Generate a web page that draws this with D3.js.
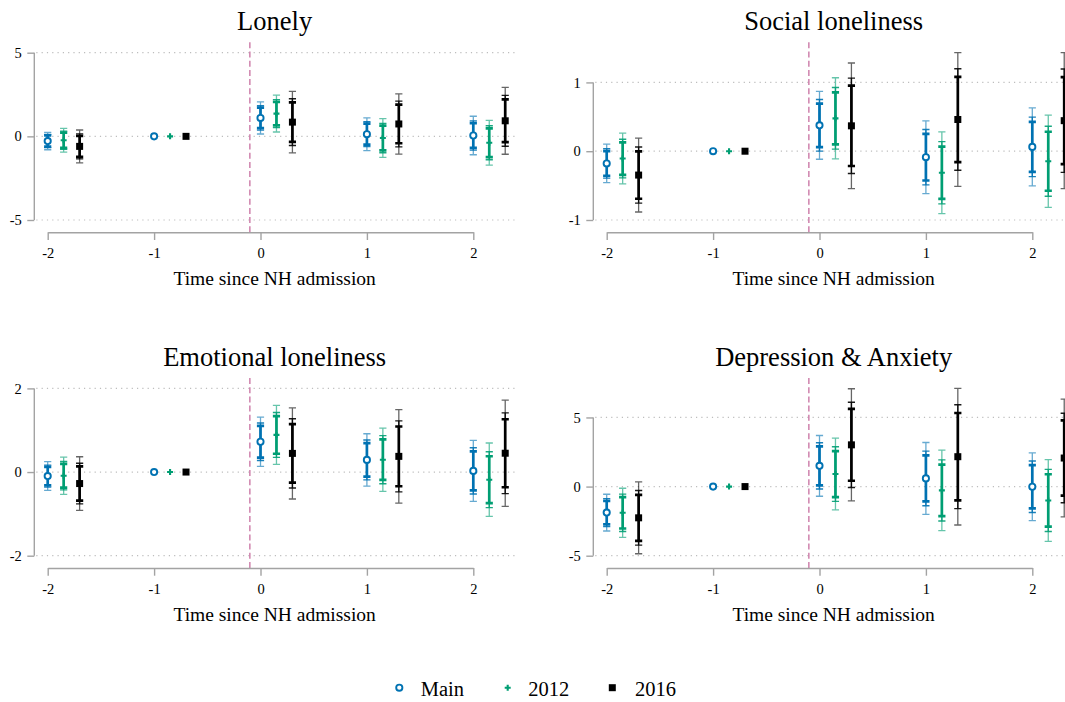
<!DOCTYPE html>
<html><head><meta charset="utf-8">
<script src="https://cdn.jsdelivr.net/npm/d3@7"></script>
<style>
body{margin:0;background:#fff}
svg{display:block}
text{font-family:"Liberation Serif","Times New Roman",serif;fill:#000}
</style>
</head><body>
<svg id="c" width="1065" height="702"></svg>
<script>
// ---- data ----
const seriesNames = ["Main", "2012", "2016"];
const timeTicks = [-2, -1, 0, 1, 2];
const panelTitles = ["Lonely", "Social loneliness", "Emotional loneliness", "Depression & Anxiety"];
const yTickSets = [[-5, 0, 5], [-1, 0, 1], [-2, 0, 2], [-5, 0, 5]];
const xTitle = "Time since NH admission";
// rows: [time, series, estimate, lo99, hi99, lo95, hi95, lo90, hi90]
const lonely = [
  [-2, "Main", -0.28, -0.80, 0.24, -0.675, 0.115, -0.613, 0.053],
  [-2, "2012", -0.23, -0.94, 0.48, -0.77, 0.31, -0.684, 0.224],
  [-2, "2016", -0.60, -1.58, 0.38, -1.345, 0.145, -1.227, 0.027],
  [-1, "Main", 0], [-1, "2012", 0], [-1, "2016", 0],
  [0, "Main", 1.10, 0.14, 2.06, 0.37, 1.83, 0.486, 1.714],
  [0, "2012", 1.36, 0.26, 2.46, 0.524, 2.196, 0.656, 2.064],
  [0, "2016", 0.85, -0.99, 2.69, -0.548, 2.248, -0.328, 2.028],
  [1, "Main", 0.13, -0.85, 1.11, -0.615, 0.875, -0.497, 0.757],
  [1, "2012", -0.10, -1.255, 1.055, -0.978, 0.778, -0.839, 0.639],
  [1, "2016", 0.74, -1.06, 2.54, -0.628, 2.108, -0.412, 1.892],
  [2, "Main", 0.05, -1.10, 1.20, -0.824, 0.924, -0.686, 0.786],
  [2, "2012", -0.38, -1.72, 0.96, -1.398, 0.638, -1.238, 0.478],
  [2, "2016", 0.93, -1.07, 2.93, -0.59, 2.45, -0.35, 2.21]
];
const social = [
  [-2, "Main", -0.178, -0.458, 0.102, -0.391, 0.035, -0.357, 0.001],
  [-2, "2012", -0.107, -0.476, 0.262, -0.387, 0.173, -0.343, 0.129],
  [-2, "2016", -0.347, -0.884, 0.19, -0.755, 0.061, -0.691, -0.003],
  [-1, "Main", 0], [-1, "2012", 0], [-1, "2016", 0],
  [0, "Main", 0.376, -0.117, 0.869, 0.001, 0.751, 0.06, 0.692],
  [0, "2012", 0.478, -0.112, 1.068, 0.03, 0.926, 0.10, 0.856],
  [0, "2016", 0.369, -0.544, 1.282, -0.325, 1.063, -0.215, 0.953],
  [1, "Main", -0.087, -0.616, 0.442, -0.489, 0.315, -0.426, 0.252],
  [1, "2012", -0.313, -0.908, 0.282, -0.765, 0.139, -0.694, 0.068],
  [1, "2016", 0.461, -0.51, 1.432, -0.277, 1.199, -0.16, 1.082],
  [2, "Main", 0.063, -0.505, 0.631, -0.369, 0.495, -0.301, 0.427],
  [2, "2012", -0.146, -0.816, 0.524, -0.655, 0.363, -0.575, 0.283],
  [2, "2016", 0.444, -0.544, 1.432, -0.307, 1.195, -0.188, 1.076]
];
const emotional = [
  [-2, "Main", -0.096, -0.439, 0.247, -0.357, 0.165, -0.316, 0.124],
  [-2, "2012", -0.088, -0.534, 0.358, -0.427, 0.251, -0.373, 0.197],
  [-2, "2016", -0.275, -0.916, 0.366, -0.762, 0.212, -0.685, 0.135],
  [-1, "Main", 0], [-1, "2012", 0], [-1, "2016", 0],
  [0, "Main", 0.725, 0.135, 1.315, 0.277, 1.173, 0.347, 1.103],
  [0, "2012", 0.888, 0.183, 1.593, 0.352, 1.424, 0.437, 1.339],
  [0, "2016", 0.446, -0.644, 1.536, -0.382, 1.274, -0.252, 1.144],
  [1, "Main", 0.29, -0.336, 0.916, -0.186, 0.766, -0.111, 0.691],
  [1, "2012", 0.295, -0.462, 1.052, -0.28, 0.87, -0.189, 0.779],
  [1, "2016", 0.375, -0.741, 1.491, -0.473, 1.223, -0.339, 1.089],
  [2, "Main", 0.028, -0.701, 0.757, -0.526, 0.582, -0.439, 0.495],
  [2, "2012", -0.183, -1.06, 0.694, -0.85, 0.484, -0.744, 0.378],
  [2, "2016", 0.45, -0.821, 1.721, -0.516, 1.416, -0.363, 1.263]
];
const depression = [
  [-2, "Main", -1.884, -3.214, -0.554, -2.895, -0.873, -2.735, -1.033],
  [-2, "2012", -1.896, -3.671, -0.121, -3.245, -0.547, -3.032, -0.76],
  [-2, "2016", -2.26, -4.86, 0.34, -4.236, -0.284, -3.924, -0.596],
  [-1, "Main", 0], [-1, "2012", 0], [-1, "2016", 0],
  [0, "Main", 1.498, -0.70, 3.696, -0.172, 3.168, 0.091, 2.905],
  [0, "2012", 0.906, -1.691, 3.503, -1.068, 2.88, -0.756, 2.568],
  [0, "2016", 3.019, -1.039, 7.077, -0.065, 6.103, 0.422, 5.616],
  [1, "Main", 0.592, -2.005, 3.189, -1.382, 2.566, -1.07, 2.254],
  [1, "2012", -0.278, -3.188, 2.632, -2.49, 1.934, -2.14, 1.584],
  [1, "2016", 2.162, -2.778, 7.102, -1.592, 5.916, -1.0, 5.324],
  [2, "Main", -0.012, -2.464, 2.44, -1.876, 1.852, -1.581, 1.557],
  [2, "2012", -1.002, -3.961, 1.957, -3.251, 1.247, -2.896, 0.892],
  [2, "2016", 2.065, -2.195, 6.325, -1.173, 5.303, -0.661, 4.791]
];
const panelData = [lonely, social, emotional, depression];

// ---- styles / layout ----
const colors = {"Main": "#0072B2", "2012": "#009E73", "2016": "#000000"};
const offsets = {"Main": 0, "2012": 0.15, "2016": 0.3};
const refLine = -0.1;
const layout = [{ox: 0, oy: 0}, {ox: 559, oy: 0}, {ox: 0, oy: 335.7}, {ox: 559, oy: 335.7}];
const AXIS = "#a3a3a3";
const FONT = '"Liberation Serif","Times New Roman",serif';
const fmt = d => String(d);

const svg = d3.select("#c");
svg.append("rect").attr("width", 1065).attr("height", 702).attr("fill", "#fff");

function drawMarker(g, s, cx, cy) {
  const c = colors[s];
  if (s === "Main") {
    g.append("circle").attr("cx", cx).attr("cy", cy).attr("r", 3.1)
      .attr("fill", "#fff").attr("stroke", c).attr("stroke-width", 1.9);
  } else if (s === "2012") {
    g.append("path").attr("d", `M${cx - 3},${cy}H${cx + 3}M${cx},${cy - 3}V${cy + 3}`)
      .attr("stroke", c).attr("stroke-width", 2.1).attr("fill", "none");
  } else {
    g.append("rect").attr("x", cx - 3.5).attr("y", cy - 3.5).attr("width", 7).attr("height", 7)
      .attr("fill", c);
  }
}

panelData.forEach((data, i) => {
  const L = layout[i];
  const g = svg.append("g").attr("transform", `translate(${L.ox},${L.oy})`);
  const ticks = yTickSets[i];
  const axisX = 34.3, rightX = 515, plotTop = 42.3, axisY = 232.3;
  const x = d3.scaleLinear().domain([-2, 2]).range([47.7, 473.3]);
  const lows = data.map(d => d.length > 3 ? d[3] : d[2]);
  const highs = data.map(d => d.length > 3 ? d[4] : d[2]);
  const ymin = Math.min(ticks[0], d3.min(lows));
  const ymax = Math.max(ticks[ticks.length - 1], d3.max(highs));
  const y = d3.scaleLinear().domain([ymin, ymax]).range([220, 52.7]);

  // gridlines
  g.selectAll(".grid").data(ticks).enter().append("line")
    .attr("x1", axisX + 2).attr("x2", rightX).attr("y1", d => y(d)).attr("y2", d => y(d))
    .attr("stroke", "#bdbdbd").attr("stroke-width", 1.2).attr("stroke-dasharray", "1.2,4.1");

  // reference line
  g.append("line").attr("x1", x(refLine)).attr("x2", x(refLine)).attr("y1", plotTop).attr("y2", axisY)
    .attr("stroke", "#CC79A7").attr("stroke-width", 1.4).attr("stroke-dasharray", "6,3.2");

  // y axis
  const ya = g.append("g").attr("transform", `translate(${axisX},0)`)
    .call(d3.axisLeft(y).tickValues(ticks).tickSize(7).tickPadding(5.5).tickFormat(fmt));
  ya.attr("font-family", FONT);
  ya.select(".domain").remove();
  ya.append("line").attr("x1", 0).attr("x2", 0).attr("y1", y(ticks[0])).attr("y2", y(ticks[ticks.length - 1]))
    .attr("stroke", AXIS).attr("stroke-width", 1.4);
  ya.selectAll(".tick line").attr("stroke", AXIS).attr("stroke-width", 1.4);
  ya.selectAll(".tick text").attr("font-family", FONT).attr("font-size", 14.5).attr("fill", "#000");

  // x axis
  const xa = g.append("g").attr("transform", `translate(0,${axisY})`)
    .call(d3.axisBottom(x).tickValues(timeTicks).tickSize(7.7).tickSizeOuter(0).tickPadding(8).tickFormat(fmt));
  xa.attr("font-family", FONT);
  xa.select(".domain").attr("stroke", AXIS).attr("stroke-width", 1.4);
  xa.selectAll(".tick line").attr("stroke", AXIS).attr("stroke-width", 1.4);
  xa.selectAll(".tick text").attr("font-family", FONT).attr("font-size", 14.5).attr("fill", "#000");

  // titles
  g.append("text").attr("x", (axisX + rightX) / 2).attr("y", 30).attr("text-anchor", "middle")
    .attr("font-family", FONT).attr("font-size", 26.5).text(panelTitles[i]);
  g.append("text").attr("x", (axisX + rightX) / 2).attr("y", 285).attr("text-anchor", "middle")
    .attr("font-family", FONT).attr("font-size", 19.5).text(xTitle);

  // error bars and markers
  const levels = [
    {lo: 3, hi: 4, w: 1.3, op: 0.6},
    {lo: 5, hi: 6, w: 1.4, op: 0.9},
    {lo: 7, hi: 8, w: 2.7, op: 1}
  ];
  seriesNames.forEach(s => {
    const rows = data.filter(d => d[1] === s);
    rows.forEach(d => {
      const cx = x(d[0] + offsets[s]);
      if (d.length > 3) {
        levels.forEach(lv => {
          const y1 = y(d[lv.lo]), y2 = y(d[lv.hi]);
          g.append("path")
            .attr("d", `M${cx},${y1}V${y2}M${cx - 3.6},${y1}H${cx + 3.6}M${cx - 3.6},${y2}H${cx + 3.6}`)
            .attr("stroke", colors[s]).attr("stroke-opacity", lv.op)
            .attr("stroke-width", lv.w).attr("fill", "none");
        });
      }
    });
    rows.forEach(d => drawMarker(g, s, x(d[0] + offsets[s]), y(d[2])));
  });
});

// legend
const lg = svg.append("g");
const legendItems = [
  {s: "Main", mx: 399.3, tx: 420.7},
  {s: "2012", mx: 507.7, tx: 528.3},
  {s: "2016", mx: 612.3, tx: 635}
];
legendItems.forEach(it => {
  drawMarker(lg, it.s, it.mx, 687.7);
  lg.append("text").attr("x", it.tx).attr("y", 696).attr("font-family", FONT).attr("font-size", 20.5).text(it.s);
});
</script>
</body></html>
